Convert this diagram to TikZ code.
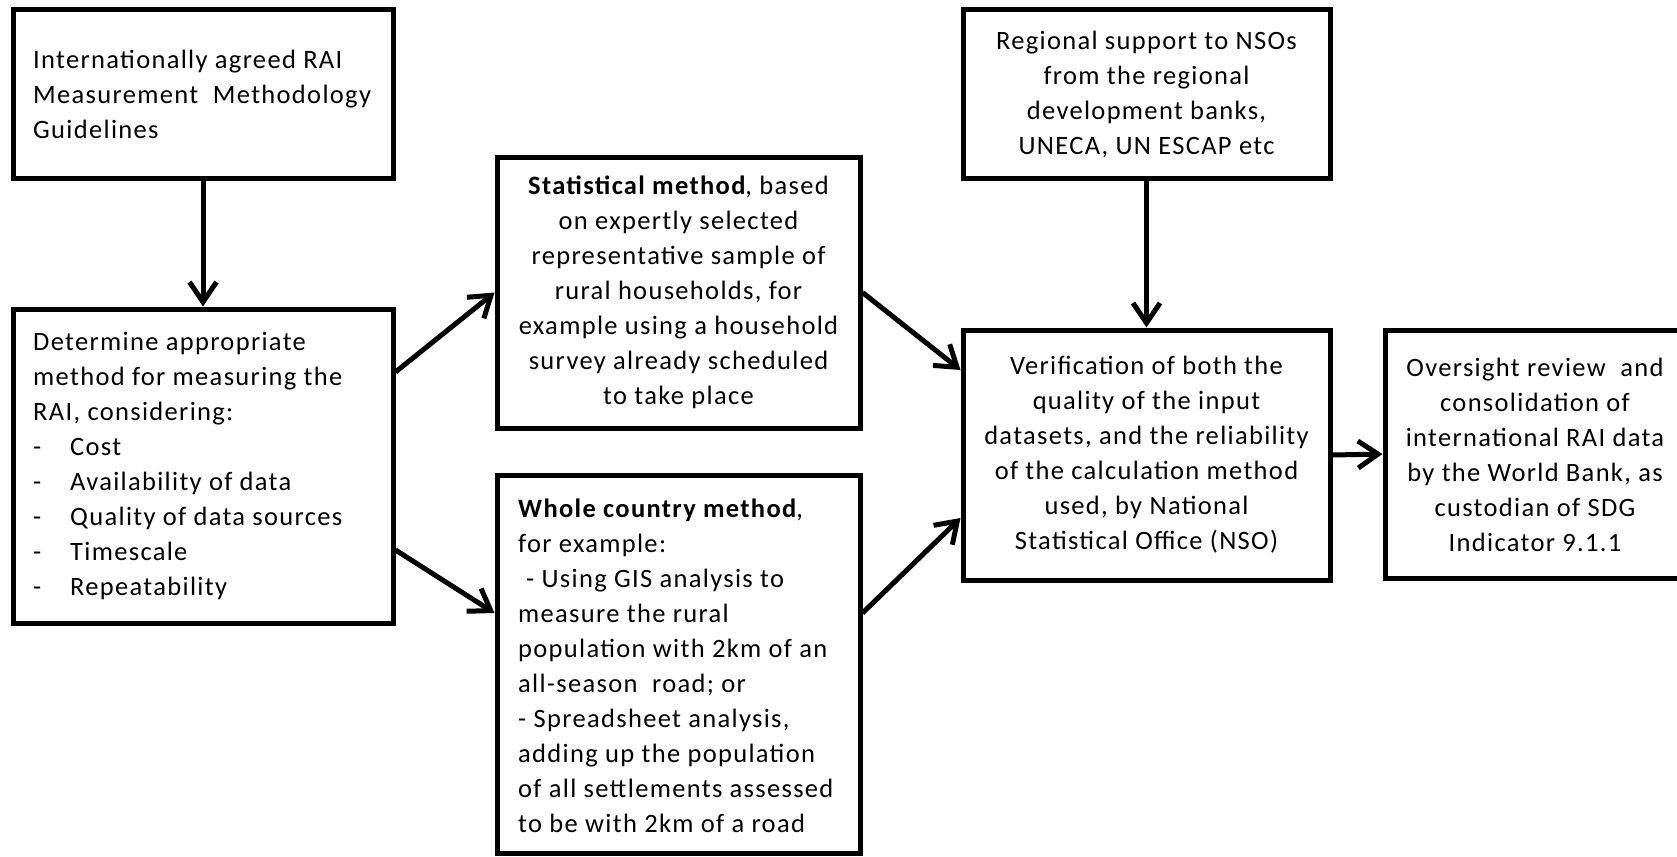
\documentclass[tikz,border=0pt]{standalone}
\usepackage{fontspec}
\setmainfont{Carlito}[LetterSpace=5]
\usetikzlibrary{arrows.meta}
\begin{document}
\begin{tikzpicture}[x=1pt,y=-1pt,
  box/.style={draw, line width=5pt, inner sep=0pt},
  txt/.style={font=\fontsize{26.5}{35}\selectfont, inner sep=0pt},
  arr/.style={line width=5pt, -{Straight Barb[length=20pt,width=27pt]}}]
\useasboundingbox[fill=white] (0,0) rectangle (1677,856);

% boxes
\node[box, minimum width=380pt, minimum height=168pt] (b1) at (203,94) {};
\node[box, minimum width=380pt, minimum height=314pt] (b2) at (203,466) {};
\node[box, minimum width=363pt, minimum height=271pt] (stat) at (678.5,292.5) {};
\node[box, minimum width=363pt, minimum height=378pt] (whole) at (678.5,664) {};
\node[box, minimum width=367pt, minimum height=168pt] (reg) at (1146.5,94) {};
\node[box, minimum width=367pt, minimum height=250pt] (verif) at (1146.5,455) {};
\node[box, minimum width=300pt, minimum height=248pt] (over) at (1535,454) {};

% texts
\node[txt, anchor=west, align=left] (t1) at (33,94)
  {Internationally agreed RAI\\Measurement\ \ Methodology\\Guidelines};
\node[txt, anchor=west, align=left] (t2) at (33,466)
  {Determine appropriate\\method for measuring the\\RAI, considering:\\
   \makebox[37pt][l]{-}Cost\\
   \makebox[37pt][l]{-}Availability of data\\
   \makebox[37pt][l]{-}Quality of data sources\\
   \makebox[37pt][l]{-}Timescale\\
   \makebox[37pt][l]{-}Repeatability};
\node[txt, align=center] (tstat) at (678.5,292.5)
  {\textbf{Statistical method}, based\\on expertly selected\\representative sample of\\rural households, for\\example using a household\\survey already scheduled\\to take place};
\node[txt, anchor=west, align=left] (twhole) at (518,666)
  {\textbf{Whole country method},\\for example:\\\hspace*{8pt}- Using GIS analysis to\\measure the rural\\population with 2km of an\\all-season\ \ road; or\\- Spreadsheet analysis,\\adding up the population\\of all settlements assessed\\to be with 2km of a road};
\node[txt, align=center] (treg) at (1146.5,94)
  {Regional support to NSOs\\from the regional\\development banks,\\UNECA, UN ESCAP etc};
\node[txt, align=center] (tverif) at (1146.5,455)
  {Verification of both the\\quality of the input\\datasets, and the reliability\\of the calculation method\\used, by National\\Statistical Office (NSO)};
\node[txt, align=center] (tover) at (1535,455)
  {Oversight review\ \ and\\consolidation of\\international RAI data\\by the World Bank, as\\custodian of SDG\\Indicator 9.1.1};

% helper coordinates
\coordinate (y372) at (0,372);
\coordinate (y550) at (0,550);
\coordinate (y613) at (0,613);
\coordinate (y370) at (0,370);
\coordinate (y518) at (0,518);

% connectors
\draw[arr] (b1.south) -- (b2.north);
\draw[arr] (b2.east |- y372) -- (stat.west);
\draw[arr] (b2.east |- y550) -- (whole.west |- y613);
\draw[arr] (stat.east) -- (verif.west |- y370);
\draw[arr] (whole.east |- y613) -- (verif.west |- y518);
\draw[arr] (reg.south) -- (verif.north);
\draw[arr] (verif.east) -- (over.west);
\end{tikzpicture}
\end{document}
